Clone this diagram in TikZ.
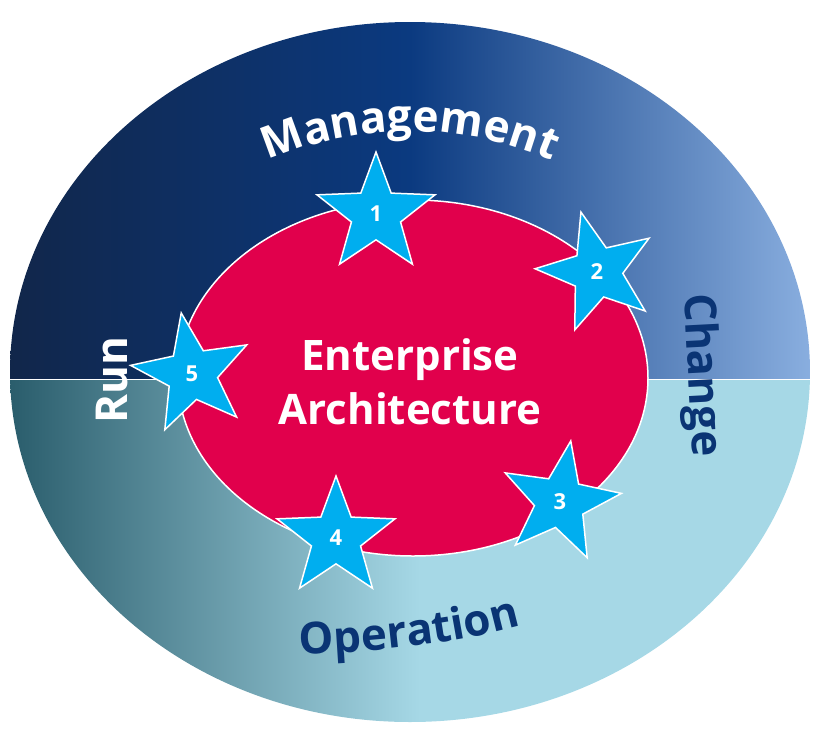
\documentclass[tikz,border=0pt]{standalone}
\usepackage{fontspec}
\setmainfont{Open Sans}
\usetikzlibrary{shapes.geometric,decorations.text}
\definecolor{navyd}{HTML}{11264A}
\definecolor{navym}{HTML}{0B3A80}
\definecolor{bluel}{HTML}{89AEDF}
\definecolor{teald}{HTML}{2A5D6C}
\definecolor{teall}{HTML}{A6D8E6}
\definecolor{eared}{HTML}{E1004C}
\definecolor{starblue}{HTML}{00AEEF}
\definecolor{labnavy}{HTML}{0A3474}
\tikzset{
    eastar/.style={star, star points=5, star point ratio=2.4, minimum size=124pt,
        fill=starblue, draw=white, line width=1.5pt, text=white,
        font=\fontsize{22}{24}\selectfont\bfseries, inner sep=0pt},
    ring/.style={font=\fontsize{44}{48}\selectfont\bfseries},
}
\begin{document}
\begin{tikzpicture}[x=1pt,y=-1pt]
    \useasboundingbox (0,0) rectangle (820,737);

    % outer ellipse, two halves
    \begin{scope}
        \clip (410,372) ellipse [x radius=400, y radius=350];
        \shade[left color=navyd, right color=bluel, middle color=navym] (10,20) rectangle (810,379);
        \shade[left color=teald, right color=teall] (10,379) rectangle (420,722);
        \fill[teall] (420,379) rectangle (810,722);
    \end{scope}
    \draw[white, line width=1pt] (10,379) -- (810,379);

    % inner ellipse
    \node[ellipse, fill=eared, draw=white, line width=1.5pt, minimum width=470pt, minimum height=356pt]
        (core) at (413,378) {};
    \node[white, font=\fontsize{42}{54}\selectfont\bfseries, align=center] (title) at (410,382)
        {Enterprise\\Architecture};

    % stars
    \node[eastar] (s1) at (376,214) {1};
    \node[eastar, rotate=15] (s2) at (597,272) {\rotatebox{-15}{2}};
    \node[eastar, rotate=-10] (s3) at (560,502) {\rotatebox{10}{3}};
    \node[eastar] (s4) at (336,538) {4};
    \node[eastar, rotate=10] (s5) at (192,374) {\rotatebox{-10}{5}};

    % ring labels
    \path[decorate, decoration={text along path, text align=center,
        text={|\fontsize{44}{48}\selectfont\bfseries\color{white}|Management}}]
        (230,180) .. controls (340,115) and (480,115) .. (590,180);
    \path[decorate, decoration={text along path, text align=center,
        text={|\fontsize{44}{48}\selectfont\bfseries\color{labnavy}|Operation}}]
        (280,655) .. controls (370,653) and (460,645) .. (540,620);
    \node[ring, white, rotate=90] (run) at (112,380) {Run};
    \node[ring, labnavy, rotate=-87] (change) at (700,375) {Change};
\end{tikzpicture}
\end{document}
